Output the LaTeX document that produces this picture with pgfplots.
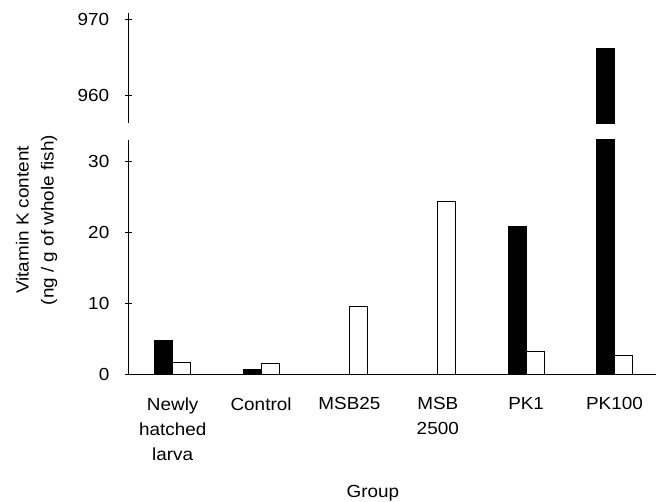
\documentclass[border=0pt]{standalone}
\usepackage{fontspec}
\setmainfont[FakeStretch=1.08]{Liberation Sans}
\usepackage{pgfplots}
\pgfplotsset{compat=1.18}

\newcommand{\vkfont}{\fontsize{17.5}{25}\selectfont}

% shared look of both panels of the broken axis
\pgfplotsset{
  vkpanel/.style={
    scale only axis,
    width=527.7pt,
    xmin=-0.5025, xmax=5.47,
    tick align=inside,
    major tick length=7pt,
    y tick style={black, line width=1pt},
    x tick style={draw=none},
    font=\vkfont,
    every tick label/.append style={font=\vkfont},
    /pgf/number format/assume math mode=true,
    yticklabel style={xshift=-12pt},
    ybar=0pt, bar width=18pt,
  },
  black bar/.style={fill=black, draw=black, line width=1pt},
  white bar/.style={fill=white, draw=black, line width=1pt},
}

\begin{document}
\begin{tikzpicture}
\useasboundingbox (0,0) rectangle (656pt,502pt);

% lower panel: 0 to 33
\begin{axis}[
  vkpanel,
  at={(128.3pt,127.7pt)}, anchor=south west,
  height=234.3pt,
  ymin=0, ymax=33,
  ytick={0,10,20,30},
  yticklabels={0,10,20,30},
  axis x line=bottom, axis y line=left,
  axis line style={-, line width=1pt},
  every outer x axis line/.append style={-},
  every outer y axis line/.append style={-},
  xtick={0,1,2,3,4,5},
  xticklabels={{Newly\\hatched\\larva},Control,MSB25,{MSB\\2500},PK1,PK100},
  xticklabel style={align=center, anchor=north, yshift=-16pt},
  xlabel={Group},
  xlabel style={font=\vkfont, at={(axis description cs:0.4637,-0.525)}, anchor=base},
  ylabel={Vitamin K content\\(ng / g of whole fish)},
  ylabel style={font=\vkfont, align=center, at={(axis description cs:-0.174,0.6586)}, anchor=center},
]
\addplot[black bar] coordinates {(0,4.7) (1,0.7) (4,20.8) (5,966.2)};
\addplot[white bar] coordinates {(0,1.7) (1,1.45) (2,9.5) (3,24.3) (4,3.2) (5,2.6)};
\end{axis}

% upper panel: 956 to 971
\begin{axis}[
  vkpanel,
  at={(128.3pt,378.7pt)}, anchor=south west,
  height=110.6pt,
  ymin=956.23, ymax=970.97,
  ytick={960,970},
  yticklabels={960,970},
  axis x line=none, axis y line=left,
  axis line style={-, line width=1pt},
  every outer y axis line/.append style={-},
  xtick=\empty,
]
\addplot[black bar, bar shift=-9pt] coordinates {(5,966.2)};
\end{axis}
\end{tikzpicture}
\end{document}
